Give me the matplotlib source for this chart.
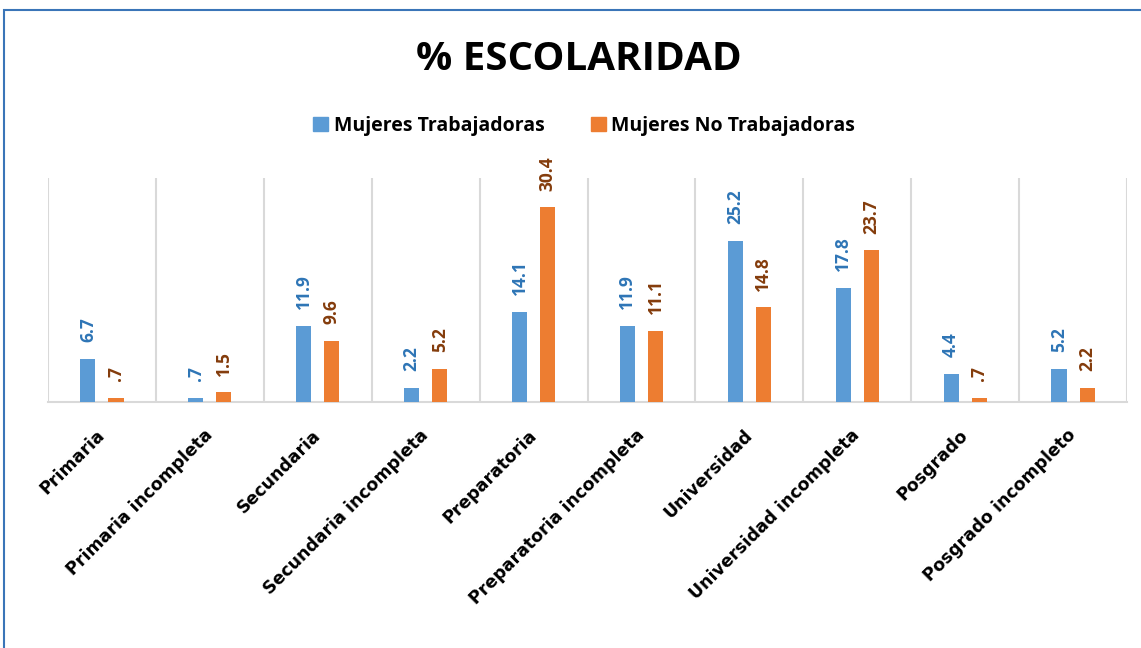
import numpy as np
import matplotlib
matplotlib.use("Agg")
import matplotlib.pyplot as plt
from matplotlib.patches import Rectangle, Patch

plt.rcParams['font.family'] = ['Open Sans', 'DejaVu Sans']
plt.rcParams['font.weight'] = 'bold'

# Datos
categorias = ["Primaria", "Primaria incompleta", "Secundaria", "Secundaria incompleta",
              "Preparatoria", "Preparatoria incompleta", "Universidad",
              "Universidad incompleta", "Posgrado", "Posgrado incompleto"]
trabajadoras = [6.7, 0.7, 11.9, 2.2, 14.1, 11.9, 25.2, 17.8, 4.4, 5.2]
no_trabajadoras = [0.7, 1.5, 9.6, 5.2, 30.4, 11.1, 14.8, 23.7, 0.7, 2.2]
series = ["Mujeres Trabajadoras", "Mujeres No Trabajadoras"]

azul = "#5B9BD5"
naranja = "#ED7D31"
azul_txt = "#2E75B6"
naranja_txt = "#843C0C"

def etiqueta(v):
    s = f"{v:.1f}"
    return s[1:] if s.startswith("0") else s

fig = plt.figure(figsize=(11.41, 6.48), dpi=100)
ax = fig.add_axes([48/1141, 1 - 402/648, 1079/1141, 224/648])

x = np.arange(len(categorias))
w = 0.14
off = 0.13
b1 = ax.bar(x - off, trabajadoras, w, color=azul, zorder=3)
b2 = ax.bar(x + off, no_trabajadoras, w, color=naranja, zorder=3)

for barras, vals, col in [(b1, trabajadoras, azul_txt), (b2, no_trabajadoras, naranja_txt)]:
    for b, v in zip(barras, vals):
        ax.annotate(etiqueta(v), (b.get_x() + b.get_width()/2, v),
                    xytext=(0, 12), textcoords="offset points",
                    rotation=90, ha="center", va="bottom",
                    fontsize=12.5, fontweight="bold", color=col)

ax.set_xlim(-0.5, len(categorias) - 0.5)
ax.set_ylim(0, 35)
ax.set_yticks([])
ax.set_xticks(x, categorias, rotation=45, ha="right", va="center",
              rotation_mode="anchor", fontsize=12.5, fontweight="bold",
              family="DejaVu Sans")
ax.tick_params(axis="x", length=0, pad=22)
ax.set_xticks(np.arange(-0.5, len(categorias)), minor=True)
ax.tick_params(axis="x", which="minor", length=0)
ax.grid(which="minor", axis="x", color="#D9D9D9", linewidth=1.5, zorder=0)
for s in ["top", "right", "left"]:
    ax.spines[s].set_visible(False)
ax.spines["bottom"].set_color("#D9D9D9")
ax.spines["bottom"].set_linewidth(1.5)

fig.text(0.507, 1 - 59/648, "% ESCOLARIDAD", ha="center", va="center",
         fontsize=29, fontweight="bold")

handles = [Patch(color=azul), Patch(color=naranja)]
fig.legend(handles, series, loc="center", bbox_to_anchor=(0.512, 1 - 126/648),
           ncol=2, frameon=False, fontsize=14, handlelength=0.75, handleheight=0.75,
           handletextpad=0.3, columnspacing=2.4)

fig.patches.append(Rectangle((4/1141, -0.1), 1.2, 1.1 - 10/648,
                             transform=fig.transFigure, fill=False,
                             edgecolor="#3A75B8", linewidth=1.5))

fig.savefig("out.png", dpi=100)
